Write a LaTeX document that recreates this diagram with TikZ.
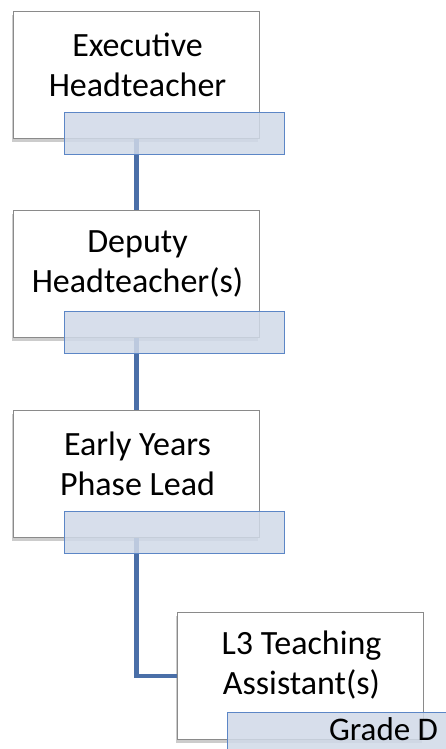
\documentclass[tikz,border=0pt]{standalone}
\usepackage{fontspec}
\setmainfont{Carlito}
\usetikzlibrary{shadows}

\definecolor{tabfill}{HTML}{D0D9E8}
\definecolor{tabline}{HTML}{5C86C6}
\definecolor{linkblue}{HTML}{4A6FA8}
\definecolor{boxline}{HTML}{8A8A8A}

\tikzset{
  unit/.style={draw=boxline, fill=white, line width=1pt, minimum width=246pt,
    minimum height=127pt, inner sep=0pt, anchor=north west,
    drop shadow={shadow xshift=-1.5pt, shadow yshift=-3.5pt, opacity=.4}},
  unittext/.style={align=center, font=\fontsize{34}{40}\selectfont, inner sep=0pt},
  tab/.style={draw=tabline, fill=tabfill, fill opacity=.85, text opacity=1,
    line width=1pt, minimum width=220pt, minimum height=42pt, inner sep=0pt,
    anchor=north west, font=\fontsize{33}{40}\selectfont},
  link/.style={draw=linkblue, line width=4.5pt}
}

\begin{document}
\begin{tikzpicture}[x=1pt,y=-1pt]
\useasboundingbox (0,0) rectangle (446,749);
\clip (0,0) rectangle (446,749);
\node[unit] (exec) at (13,11) {};
\node[unit] (deputy) at (13,210) {};
\node[unit] (eylead) at (13,410) {};
\node[unit] (ta) at (177,612) {};
\node[unittext] (exectext) at ([shift={(1,53.5)}]exec.north) {Executive\\Headteacher};
\node[unittext] (deputytext) at ([shift={(1,53.5)}]deputy.north) {Deputy\\Headteacher(s)};
\node[unittext] (eyleadtext) at ([shift={(1,53.5)}]eylead.north) {Early Years\\Phase Lead};
\node[unittext] (tatext) at ([shift={(1,53.5)}]ta.north) {L3 Teaching\\Assistant(s)};
\path[link] (exec.south) -- (deputy.north);
\path[link] (deputy.south) -- (eylead.north);
\path[link] (eylead.south) |- (ta.west);
\node[tab] (exectab) at ([shift={(51,101)}]exec.north west) {};
\node[tab] (deputytab) at ([shift={(51,101)}]deputy.north west) {};
\node[tab] (eyleadtab) at ([shift={(51,101)}]eylead.north west) {};
\node[tab, minimum width=312pt, text height=22pt, text depth=8pt] (tatab)
  at ([shift={(50,100)}]ta.north west) {Grade D};
\end{tikzpicture}
\end{document}
